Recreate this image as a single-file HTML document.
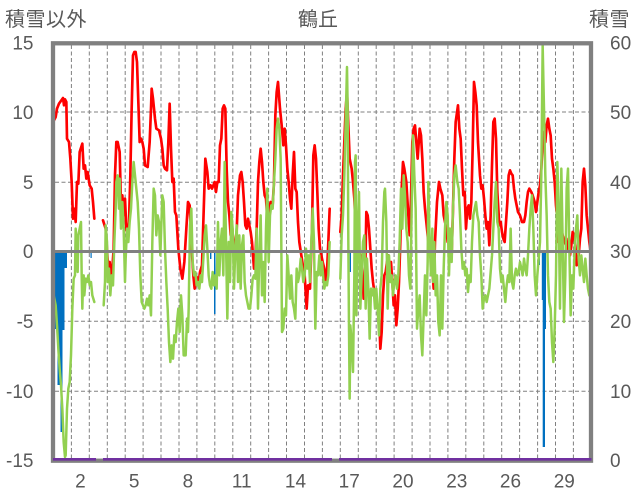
<!DOCTYPE html>
<html><head><meta charset="utf-8"><style>
html,body{margin:0;padding:0;background:#fff;}
svg{display:block;}
text{font-family:"Liberation Sans","Noto Sans CJK JP",sans-serif;fill:#595959;}
</style></head><body>
<svg width="636" height="501" viewBox="0 0 636 501" xmlns="http://www.w3.org/2000/svg">
<defs><clipPath id="pc"><rect x="55" y="45" width="534" height="414"/></clipPath></defs>
<rect width="636" height="501" fill="#fff"/>
<!-- titles -->
<text x="5" y="26" font-size="20" letter-spacing="0.5">積雪以外</text>
<text x="318" y="26" font-size="20" text-anchor="middle">鶴丘</text>
<text x="589" y="26" font-size="20" letter-spacing="0.5">積雪</text>
<!-- left ticks -->
<g font-size="19" text-anchor="end">
<text x="33.5" y="49.5">15</text>
<text x="33.5" y="119">10</text>
<text x="33.5" y="189">5</text>
<text x="33.5" y="258">0</text>
<text x="33.5" y="328">-5</text>
<text x="33.5" y="398">-10</text>
<text x="33.5" y="467">-15</text>
</g>
<!-- right ticks -->
<g font-size="19">
<text x="610" y="49.5">60</text>
<text x="610" y="119">50</text>
<text x="610" y="189">40</text>
<text x="610" y="258">30</text>
<text x="610" y="328">20</text>
<text x="610" y="398">10</text>
<text x="610" y="467">0</text>
</g>
<!-- x ticks -->
<g font-size="19" text-anchor="middle">
<text x="80.4" y="487.5">2</text>
<text x="134.2" y="487.5">5</text>
<text x="187.9" y="487.5">8</text>
<text x="241.7" y="487.5">11</text>
<text x="295.5" y="487.5">14</text>
<text x="349.2" y="487.5">17</text>
<text x="403" y="487.5">20</text>
<text x="456.8" y="487.5">23</text>
<text x="510.5" y="487.5">26</text>
<text x="564.3" y="487.5">29</text>
</g>
<!-- grid -->
<g stroke="#808080" stroke-width="1" stroke-dasharray="4 2.5" fill="none">
<line x1="55" y1="112" x2="589" y2="112"/>
<line x1="55" y1="182.3" x2="589" y2="182.3"/>
<line x1="55" y1="321.3" x2="589" y2="321.3"/>
<line x1="55" y1="391.3" x2="589" y2="391.3"/>
<line x1="71.4" y1="45" x2="71.4" y2="458"/>
<line x1="89.3" y1="45" x2="89.3" y2="458"/>
<line x1="107.3" y1="45" x2="107.3" y2="458"/>
<line x1="125.2" y1="45" x2="125.2" y2="458"/>
<line x1="143.1" y1="45" x2="143.1" y2="458"/>
<line x1="161" y1="45" x2="161" y2="458"/>
<line x1="179" y1="45" x2="179" y2="458"/>
<line x1="196.9" y1="45" x2="196.9" y2="458"/>
<line x1="214.8" y1="45" x2="214.8" y2="458"/>
<line x1="232.8" y1="45" x2="232.8" y2="458"/>
<line x1="250.7" y1="45" x2="250.7" y2="458"/>
<line x1="268.6" y1="45" x2="268.6" y2="458"/>
<line x1="286.5" y1="45" x2="286.5" y2="458"/>
<line x1="304.5" y1="45" x2="304.5" y2="458"/>
<line x1="322.4" y1="45" x2="322.4" y2="458"/>
<line x1="340.3" y1="45" x2="340.3" y2="458"/>
<line x1="358.3" y1="45" x2="358.3" y2="458"/>
<line x1="376.2" y1="45" x2="376.2" y2="458"/>
<line x1="394.1" y1="45" x2="394.1" y2="458"/>
<line x1="412.1" y1="45" x2="412.1" y2="458"/>
<line x1="430" y1="45" x2="430" y2="458"/>
<line x1="447.9" y1="45" x2="447.9" y2="458"/>
<line x1="465.8" y1="45" x2="465.8" y2="458"/>
<line x1="483.8" y1="45" x2="483.8" y2="458"/>
<line x1="501.7" y1="45" x2="501.7" y2="458"/>
<line x1="519.6" y1="45" x2="519.6" y2="458"/>
<line x1="537.6" y1="45" x2="537.6" y2="458"/>
<line x1="555.5" y1="45" x2="555.5" y2="458"/>
<line x1="573.4" y1="45" x2="573.4" y2="458"/>
</g>
<!-- blue bars -->
<g fill="#0070c0">
<rect x="55" y="253" width="2.5" height="76"/>
<rect x="57.5" y="253" width="3" height="132"/>
<rect x="60.5" y="253" width="2" height="179"/>
<rect x="62.5" y="253" width="2" height="77"/>
<rect x="64.5" y="253" width="2.5" height="15"/>
<rect x="90.5" y="253" width="1.2" height="5"/>
<rect x="210" y="253" width="1.4" height="6"/>
<rect x="214" y="253" width="1.5" height="61"/>
<rect x="349.7" y="253" width="1.3" height="19"/>
<rect x="538.7" y="253" width="1.3" height="12"/>
<rect x="541.8" y="253" width="1.5" height="47"/>
<rect x="542.7" y="253" width="2.3" height="194"/>
<rect x="545" y="253" width="1" height="76"/>
</g>
<g clip-path="url(#pc)">
<g transform="translate(53,42) scale(0.33333)" fill="none" stroke-linejoin="round" stroke-linecap="round">
<g stroke="#ff0000" stroke-width="8">
<polyline points="3,235 8,225 12,200 18,185 25,175 30,168 33,190 36,172 40,180 42,290 48,300 52,350 56,420 60,530 64,500 68,540 72,420 76,425 80,330 88,305 92,380 96,370 100,410 104,390 110,430 116,440 120,480 124,530"/>
<polyline points="150,535 158,560 162,620 166,690 170,660 174,700 178,680 182,620 186,400 190,300 194,300 200,330 204,490 208,460 212,520 216,470 220,560 224,590 228,540 232,400 236,200 240,40 244,30 248,30 252,60 256,180 260,300 264,290 268,300 272,320 276,370 284,375 290,300 294,200 296,140 300,170 306,230 310,260 318,265 324,290 328,320 332,370 336,380 342,385 346,300 350,185 354,320 358,420 362,410 366,510 370,520 376,620 382,680 388,710 394,660 400,560 405,480 410,490 415,600 421,700 425,740 431,705 437,720 441,690 447,670 451,540 457,350 463,390 467,440 473,430 477,440 481,430 485,420 489,450 493,420 497,420 501,310 505,290 509,200 513,190 517,200 521,380 525,480 529,520 533,580 537,550 541,600 545,620 551,570 555,460 561,400 565,390 569,420 573,480 577,550 581,560 585,530 589,550 593,570 597,600 603,680 607,650 611,560 615,420 619,360 623,320 627,360 631,420 635,460 639,470 643,530 647,500 653,480 659,490 663,420 667,220 671,150 675,120 681,200 687,260 691,310 695,260 699,310 703,380 707,420 711,470 715,500 719,400 723,330 727,440 731,450 735,540 739,600 745,640 751,680 755,700 761,800 765,730 771,740 777,560 781,340 785,310 789,350 793,450 797,560 801,620 805,640 809,660 814,680 818,720 822,690 826,600 830,500"/>
<polyline points="862,570 866,520 870,400 874,300 878,200 882,150 886,250 890,350 896,380 900,420 904,470 908,560 912,600 916,620 922,640 928,690 932,770 936,730 940,510 944,520 948,560 952,620 956,680 960,720 964,750 968,770 972,790 978,810 982,920 986,870 990,760 994,700 998,690 1002,660 1006,640 1010,700 1014,660 1018,720 1022,790 1026,760 1030,850 1034,800 1038,720 1042,600 1046,440 1050,360 1054,380 1060,420 1066,520 1070,580 1074,470 1078,300 1082,260 1086,250 1090,300 1094,350 1100,260 1104,280 1108,350 1112,450 1116,500 1120,540 1126,600 1132,640 1138,680 1142,740 1146,600 1152,480 1158,420 1162,440 1168,460 1172,520 1176,540 1180,560 1184,600 1188,560 1192,600 1196,640 1200,500 1204,350 1208,240 1215,190 1219,260 1223,290 1227,380 1231,460 1235,450 1239,560 1243,500 1247,490 1251,530 1255,480 1259,320 1263,120 1267,150 1271,190 1275,300 1281,400 1285,440 1289,430 1293,470 1297,520 1301,560 1305,540 1309,610 1313,520 1317,370 1321,240 1325,230 1329,290 1333,450 1339,550 1343,540 1347,570 1351,590 1355,600 1359,540 1363,480 1367,400 1371,385 1375,395 1379,400 1383,440 1387,470 1391,490 1395,510 1401,520 1407,540 1413,540 1417,520 1421,480 1425,450 1429,440 1435,450 1439,460 1445,480 1449,510 1453,480 1457,450 1461,430 1465,380 1469,300 1473,270 1477,300 1481,250 1485,230 1489,260 1493,280 1497,350 1501,380 1505,420 1509,490 1513,530 1517,600 1521,590 1525,560 1529,580 1535,600 1539,610 1543,620 1547,590 1551,640 1555,610 1559,570 1563,580 1567,610 1571,670 1577,640 1581,590 1585,560 1589,420 1593,380 1597,430 1601,520 1605,560 1609,600 1613,630"/>
</g>
<g stroke="#92d050" stroke-width="7.5">
<polyline points="0,750 4,770 8,790 12,850 16,920 20,980 24,1030 28,1100 32,1200 36,1245 38,1240 42,1100 46,1040 50,1020 54,940 58,800 62,710 66,700 68,560 72,620 74,690 76,580 80,560 84,540 86,700 88,800 90,720 92,700 94,760 98,710 102,720 106,700 110,730 114,720 118,760 124,780"/>
<polyline points="152,790 156,720 158,550 162,600 164,720 168,680 172,760 176,700 180,730 184,600 188,500 190,420 194,400 198,500 200,410 204,560 208,480 212,560 216,720 218,650 222,560 226,600 230,540 234,500 238,420 242,360 246,400 250,440 254,480 258,560 262,700 266,780 270,790 274,800 278,790 282,770 286,790 290,760 294,820 298,600 302,440 306,460 310,580 314,520 318,540 322,640 326,520 328,460 332,480 336,620 340,720 344,800 348,900 352,960 356,910 360,950 364,880 368,900 372,840 376,800 380,870 384,760 388,820 392,940 398,940 402,830 405,870 407,800 411,550 415,500 419,660 423,700 427,690 431,730 435,720 439,740 443,700 447,720 451,650 455,580 459,550 463,620 467,700 471,730 475,740 479,690 483,730 487,700 491,740 495,540 499,700 503,600 507,560 511,700 515,360 519,600 523,830 527,600 531,720 535,510 539,560 543,740 547,620 551,550 555,720 559,580 563,740 567,610 571,580 575,720 579,760 583,780 587,800 591,800 595,760 599,710 603,700 607,710 611,560 615,800 619,640 623,520 627,760 631,660 635,780 639,560 643,440 647,660 651,520 655,490 659,500 663,420 667,350 671,260 675,230 679,260 683,350 687,870 691,860 695,800 699,820 703,640 707,700 711,770 715,700 719,780 723,800 727,830 731,680 735,720 739,700 743,650 747,680 751,720 755,700 759,620 763,680 767,640 771,720 775,600 779,500 783,600 787,860 791,690 795,700 799,640 803,700 807,660 811,710 814,740 818,720 822,730 826,700 830,600"/>
<polyline points="862,710 866,580 870,520 874,400 878,240 882,75 884,200 886,600 888,860 890,1070 892,850 896,900 900,990 904,700 906,360 908,340 910,820 914,580 918,450 922,800 926,700 930,600 934,580 938,800 942,650 946,740 950,890 954,740 958,760 962,740 966,800 970,740 974,800 978,880 982,740 986,700 990,540 994,450 996,440 1000,540 1004,800 1008,640 1012,720 1016,700 1020,760 1024,720 1028,700 1032,740 1036,700 1040,600 1044,440 1048,560 1052,400 1056,460 1060,560 1064,600 1068,700 1072,740 1076,500 1080,280 1084,400 1088,500 1092,860 1096,800 1100,760 1104,880 1108,940 1112,820 1116,700 1120,820 1124,660 1126,420 1130,600 1134,700 1138,560 1140,720 1144,600 1148,760 1152,700 1156,840 1160,880 1164,700 1168,860 1172,680 1176,560 1180,480 1184,520 1188,700 1192,560 1196,660 1200,500 1204,400 1208,370 1213,420 1217,440 1221,520 1225,620 1229,680 1233,660 1237,700 1241,680 1245,750 1249,700 1253,720 1257,600 1261,520 1265,500 1269,480 1273,520 1277,540 1281,640 1285,700 1289,800 1293,770 1297,760 1301,780 1305,760 1309,740 1313,690 1317,640 1321,560 1325,480 1329,420 1333,540 1337,560 1341,680 1345,720 1349,700 1353,740 1357,780 1361,730 1365,700 1369,720 1373,560 1377,720 1381,740 1385,700 1389,680 1393,700 1397,690 1401,660 1405,680 1409,700 1413,650 1417,680 1421,700 1425,640 1429,560 1433,500 1437,460 1441,560 1445,700 1449,760 1453,700 1457,650 1461,600 1465,400 1469,10 1473,200 1477,400 1481,520 1485,700 1489,780 1493,800 1497,900 1501,960 1505,860 1509,700 1513,360 1517,500 1521,800 1525,380 1529,600 1533,840 1537,700 1541,440 1545,380 1549,620 1553,820 1557,700 1561,740 1565,620 1569,560 1573,520 1577,650 1581,700 1585,640 1589,680 1593,720 1597,650 1601,700 1605,740 1609,760"/>
</g>
</g>
</g>
<!-- zero line -->
<line x1="55" y1="251.5" x2="589" y2="251.5" stroke="#808080" stroke-width="3"/>
<!-- frame -->
<rect x="53" y="43.3" width="538" height="417.4" fill="none" stroke="#808080" stroke-width="4.3"/>
<!-- snow depth (purple) -->
<g stroke="#7030a0" stroke-width="2.7">
<line x1="53" y1="459.3" x2="96" y2="459.3"/>
<line x1="103" y1="459.3" x2="332" y2="459.3"/>
<line x1="339" y1="459.3" x2="591.5" y2="459.3"/>
</g>
</svg>
</body></html>
